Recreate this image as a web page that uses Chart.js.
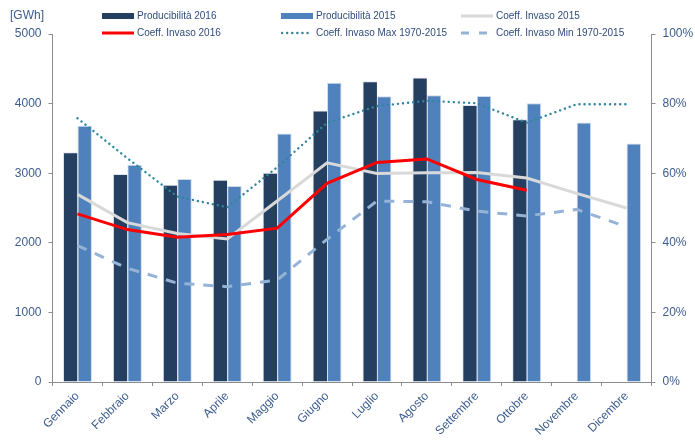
<!DOCTYPE html>
<html>
<head>
<meta charset="utf-8">
<script src="https://cdn.jsdelivr.net/npm/chart.js@4/dist/chart.umd.min.js"></script>
<style>
  html,body{margin:0;padding:0;background:#fff;}
  #wrap{position:relative;width:695px;height:440px;font-family:"Liberation Sans",Arial,sans-serif;}
  #c{position:absolute;left:0;top:0;}
  .unit{position:absolute;left:10px;top:8px;font-size:12px;color:#3C5C8E;}
  .lg{position:absolute;font-size:10px;color:#2F4C7C;white-space:nowrap;line-height:12px;}
  .lg svg{position:absolute;left:0;top:0;}
  .lg span{position:absolute;top:0;}
</style>
</head>
<body>
<div id="wrap">
  <canvas id="c" width="695" height="440"></canvas>
  <div class="unit">[GWh]</div>
</div>
<script>
const categories = ["Gennaio","Febbraio","Marzo","Aprile","Maggio","Giugno","Luglio","Agosto","Settembre","Ottobre","Novembre","Dicembre"];
const prod2016 = [3300, 2990, 2835, 2905, 3005, 3900, 4320, 4375, 3980, 3775, null, null];
const prod2015 = [3680, 3120, 2915, 2815, 3570, 4300, 4105, 4120, 4110, 4005, 3730, 3425];
const invaso2016 = [48.3, 43.8, 41.6, 42.4, 44.2, 57.1, 63.1, 64.1, 58.2, 55.1, null, null];
const invaso2015 = [53.9, 45.8, 42.7, 41.1, 52.0, 63.0, 59.9, 60.1, 60.2, 58.6, 54.2, 50.0];
const invasoMax = [75.8, 64.3, 53.3, 50.2, 61.7, 74.5, 79.3, 80.8, 80.1, 74.5, 79.8, 79.8];
const invasoMin = [39.2, 32.7, 28.4, 27.4, 29.3, 41.0, 52.0, 51.8, 49.1, 47.7, 49.6, 44.6];
const leftTicks = [0, 1000, 2000, 3000, 4000, 5000];
const rightTicks = [0, 20, 40, 60, 80, 100];

const C_DARK = '#243F60', C_LIGHT = '#4F81BD', C_RED = '#FF0000', C_GRAY = '#D9D9D9', C_MAX = '#31859C', C_MIN = '#95B3D7';
const TXT = '#3C5C8E';

// HTML legend
const legendItems = [
  {label:"Producibilità 2016", x:102, y:10, kind:'bar', color:C_DARK},
  {label:"Producibilità 2015", x:281, y:10, kind:'bar', color:C_LIGHT},
  {label:"Coeff. Invaso 2015", x:461, y:10, kind:'line', color:C_GRAY},
  {label:"Coeff. Invaso 2016", x:102, y:27, kind:'line', color:C_RED},
  {label:"Coeff. Invaso Max 1970-2015", x:281, y:27, kind:'dot', color:C_MAX},
  {label:"Coeff. Invaso Min 1970-2015", x:461, y:27, kind:'dash', color:C_MIN}
];
const wrap = document.getElementById('wrap');
legendItems.forEach(it => {
  const d = document.createElement('div');
  d.className = 'lg';
  d.style.left = it.x + 'px';
  d.style.top = it.y + 'px';
  d.style.width = '200px';
  d.style.height = '12px';
  let svg = '<svg width="34" height="12">';
  if (it.kind === 'bar') svg += `<rect x="0" y="3" width="32" height="6" fill="${it.color}"/>`;
  if (it.kind === 'line') svg += `<line x1="0" y1="6" x2="32" y2="6" stroke="${it.color}" stroke-width="3"/>`;
  if (it.kind === 'dot') svg += `<line x1="1" y1="6" x2="30" y2="6" stroke="${it.color}" stroke-width="2.4" stroke-dasharray="0.1 5" stroke-linecap="round"/>`;
  if (it.kind === 'dash') svg += `<line x1="0" y1="6" x2="28" y2="6" stroke="${it.color}" stroke-width="3" stroke-dasharray="8 10"/>`;
  svg += '</svg>';
  d.innerHTML = svg + `<span style="left:35px">${it.label}</span>`;
  wrap.appendChild(d);
});

new Chart(document.getElementById('c'), {
  type: 'bar',
  data: {
    labels: categories,
    datasets: [
      {type:'line', label:'Coeff. Invaso 2016', data: invaso2016, yAxisID:'y2', borderColor:C_RED, borderWidth:3, pointRadius:0, tension:0, fill:false, order:1},
      {type:'line', label:'Coeff. Invaso 2015', data: invaso2015, yAxisID:'y2', borderColor:C_GRAY, borderWidth:3, pointRadius:0, tension:0, fill:false, order:2},
      {type:'line', label:'Coeff. Invaso Max 1970-2015', data: invasoMax, yAxisID:'y2', borderColor:C_MAX, borderWidth:2.4, borderDash:[0.1,5], borderCapStyle:'round', pointRadius:0, tension:0, fill:false, order:3},
      {type:'line', label:'Coeff. Invaso Min 1970-2015', data: invasoMin, yAxisID:'y2', borderColor:C_MIN, borderWidth:3, borderDash:[10,9], pointRadius:0, tension:0, fill:false, order:4},
      {label:'Producibilità 2016', data: prod2016, yAxisID:'y', backgroundColor:C_DARK, borderColor:'rgba(220,226,236,0.9)', borderWidth:{left:1,right:0,top:1,bottom:0}, categoryPercentage:0.58, barPercentage:1.0, order:10},
      {label:'Producibilità 2015', data: prod2015, yAxisID:'y', backgroundColor:C_LIGHT, borderColor:'rgba(200,215,235,0.9)', borderWidth:{left:1,right:1,top:1,bottom:0}, categoryPercentage:0.58, barPercentage:1.0, order:10}
    ]
  },
  options: {
    responsive: false,
    animation: false,
    layout: {padding: {top: 34, left: 0, right: 0, bottom: 0}},
    plugins: {legend: {display:false}, tooltip:{enabled:false}},
    scales: {
      x: {
        grid: {display:true, drawOnChartArea:false, drawTicks:true, tickLength:4, color:'#8C8C8C', offset:true},
        border: {display:true, color:'#8C8C8C', width:1},
        ticks: {color:TXT, font:{family:'"Liberation Sans", Arial, sans-serif', size:12}, minRotation:45, maxRotation:45, padding:3, autoSkip:false},
        afterFit: s => { s.height = 58; }
      },
      y: {
        position:'left', min:0, max:5000,
        afterBuildTicks: s => { s.ticks = leftTicks.map(v => ({value:v})); },
        grid: {display:true, drawOnChartArea:false, drawTicks:true, tickLength:4, color:'#8C8C8C'},
        border: {display:true, color:'#8C8C8C', width:1},
        ticks: {color:TXT, font:{family:'"Liberation Sans", Arial, sans-serif', size:12}, padding:7, callback: v => String(v)},
        afterFit: s => { s.width = 52.5; }
      },
      y2: {
        position:'right', min:0, max:100,
        afterBuildTicks: s => { s.ticks = rightTicks.map(v => ({value:v})); },
        grid: {display:true, drawOnChartArea:false, drawTicks:true, tickLength:4, color:'#8C8C8C'},
        border: {display:true, color:'#8C8C8C', width:1},
        ticks: {color:TXT, font:{family:'"Liberation Sans", Arial, sans-serif', size:12}, padding:7, callback: v => v + '%'},
        afterFit: s => { s.width = 43.5; }
      }
    }
  }
});
</script>
</body>
</html>
